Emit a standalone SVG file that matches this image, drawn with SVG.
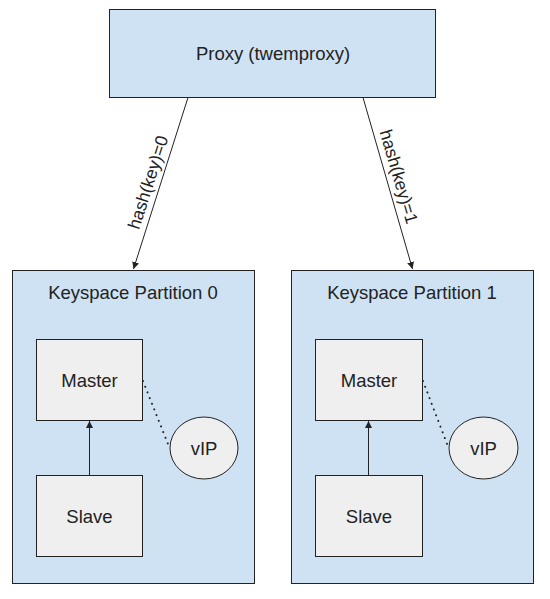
<svg xmlns="http://www.w3.org/2000/svg" width="550" height="599" viewBox="0 0 550 599">
<style>
.blue{fill:#cfe2f3;stroke:#222;stroke-width:1}
.grey{fill:#efefef;stroke:#222;stroke-width:1}
text{font-family:"Liberation Sans",Arial,sans-serif;fill:#222;text-anchor:middle}
.big{font-size:18.5px}
.lbl{font-size:17.5px}
.conn{stroke:#222;stroke-width:1;fill:none}
.dot{stroke:#222;stroke-width:2;fill:none;stroke-dasharray:0.1,6;stroke-linecap:round}
</style>
<defs>
<marker id="ah" viewBox="0 0 10 10" refX="10" refY="5" markerWidth="7" markerHeight="7" markerUnits="userSpaceOnUse" orient="auto">
<path d="M0,0 L10,5 L0,10 z" fill="#222"/>
</marker>
</defs>
<rect width="550" height="599" fill="#fff"/>
<g id="proxy">
<rect class="blue" x="109.5" y="9.5" width="326" height="88"/>
<text class="big" x="273" y="60">Proxy (twemproxy)</text>
</g>
<g id="partition0">
<rect class="blue" x="12.5" y="270.5" width="242" height="313"/>
<text class="big" x="133" y="299">Keyspace Partition 0</text>
</g>
<g id="master0">
<rect class="grey" x="36.5" y="339.5" width="106" height="81"/>
<text class="big" x="89.5" y="387">Master</text>
</g>
<g id="slave0">
<rect class="grey" x="36.5" y="475.5" width="106" height="81"/>
<text class="big" x="89.5" y="523">Slave</text>
</g>
<g id="vip0">
<ellipse class="grey" cx="204" cy="448" rx="34" ry="31"/>
<text class="big" x="204" y="455">vIP</text>
</g>
<g id="partition1">
<rect class="blue" x="291.5" y="270.5" width="242" height="313"/>
<text class="big" x="412" y="299">Keyspace Partition 1</text>
</g>
<g id="master1">
<rect class="grey" x="315.5" y="339.5" width="107" height="81"/>
<text class="big" x="369" y="387">Master</text>
</g>
<g id="slave1">
<rect class="grey" x="315.5" y="475.5" width="107" height="81"/>
<text class="big" x="369" y="523">Slave</text>
</g>
<g id="vip1">
<ellipse class="grey" cx="483.5" cy="448" rx="34.5" ry="31"/>
<text class="big" x="483.5" y="455">vIP</text>
</g>
<g id="connectors">
<line class="conn" x1="188" y1="97.5" x2="133.5" y2="269" marker-end="url(#ah)"/>
<line class="conn" x1="363" y1="97.5" x2="412.5" y2="269" marker-end="url(#ah)"/>
<text class="lbl" transform="translate(159.5,186) rotate(-72.2)" x="0" y="-6">hash(key)=0</text>
<text class="lbl" transform="translate(387.3,180) rotate(73.7)" x="0" y="-6">hash(key)=1</text>
<line class="conn" x1="89.5" y1="475" x2="89.5" y2="421" marker-end="url(#ah)"/>
<line class="conn" x1="368.5" y1="475" x2="368.5" y2="421" marker-end="url(#ah)"/>
<line class="dot" x1="143" y1="381" x2="170" y2="449"/>
<line class="dot" x1="423" y1="381" x2="449" y2="449"/>
</g>
</svg>
